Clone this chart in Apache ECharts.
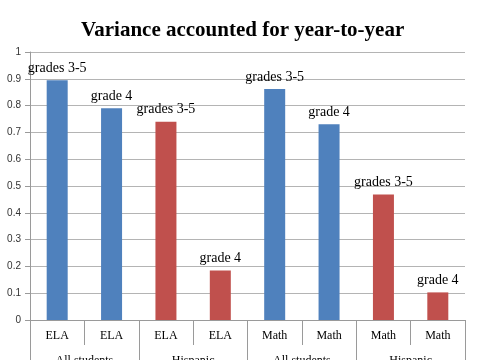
<!DOCTYPE html>
<html>
<head>
<meta charset="utf-8">
<script src="https://cdn.jsdelivr.net/npm/echarts@6/dist/echarts.min.js"></script>
<style>html,body{margin:0;padding:0;background:#fff}#c{width:485px;height:360px}</style>
</head>
<body>
<div id="c"></div>
<script>
const titleText = 'Variance accounted for year-to-year';
const subjects = ['ELA', 'ELA', 'ELA', 'ELA', 'Math', 'Math', 'Math', 'Math'];
const groups = ['All students', 'Hispanic', 'All students', 'Hispanic'];
const barGroups = ['All students', 'All students', 'Hispanic', 'Hispanic', 'All students', 'All students', 'Hispanic', 'Hispanic'];
const values = [0.895, 0.79, 0.74, 0.185, 0.862, 0.73, 0.468, 0.103];
const barLabels = ['grades 3-5', 'grade 4', 'grades 3-5', 'grade 4', 'grades 3-5', 'grade 4', 'grades 3-5', 'grade 4'];
const yTicks = { min: 0, max: 1, interval: 0.1 };

const groupColor = { 'All students': '#4F81BD', 'Hispanic': '#C0504D' };
const serif = '"Liberation Serif", "DejaVu Serif", serif';
const sans = '"Liberation Sans", "DejaVu Sans", sans-serif';

const chart = echarts.init(document.getElementById('c'), null, { renderer: 'canvas' });
chart.setOption({
  animation: false,
  backgroundColor: '#fff',
  title: {
    text: titleText, left: 76, top: 15,
    textStyle: { fontFamily: serif, fontWeight: 'bold', fontSize: 21, color: '#000' }
  },
  grid: { left: 30, right: 20, top: 52, bottom: 40, containLabel: false, outerBoundsMode: 'none' },
  xAxis: [
    {
      type: 'category', data: subjects, position: 'bottom',
      axisLine: { show: true, lineStyle: { color: '#9a9a9a', width: 1 } },
      axisTick: { show: true, interval: 0, length: 25, alignWithLabel: false, lineStyle: { color: '#9a9a9a' } },
      axisLabel: { interval: 0, margin: 10, fontFamily: serif, fontSize: 12, color: '#000' }
    },
    {
      type: 'category', data: groups, position: 'bottom',
      axisLine: { show: false },
      axisTick: { show: true, interval: 0, length: 45, lineStyle: { color: '#9a9a9a' } },
      axisLabel: { interval: 0, margin: 35, fontFamily: serif, fontSize: 12, color: '#000' }
    }
  ],
  yAxis: {
    type: 'value', min: yTicks.min, max: yTicks.max, interval: yTicks.interval,
    axisLine: { show: true, lineStyle: { color: '#9a9a9a' } },
    axisTick: { show: true, length: 5, lineStyle: { color: '#9a9a9a' } },
    splitLine: { show: true, lineStyle: { color: '#b4b4b4', width: 1 } },
    axisLabel: {
      margin: 9, fontFamily: sans, fontSize: 10, color: '#333',
      formatter: v => (Math.round(v * 10) / 10).toString()
    }
  },
  series: [{
    type: 'bar', xAxisIndex: 0, barWidth: 21,
    data: values.map((v, i) => ({
      value: v,
      itemStyle: { color: groupColor[barGroups[i]] },
      label: { formatter: barLabels[i] }
    })),
    label: {
      show: true, position: 'top', distance: 5,
      fontFamily: serif, fontSize: 14, color: '#000'
    }
  }]
});
</script>
</body>
</html>
